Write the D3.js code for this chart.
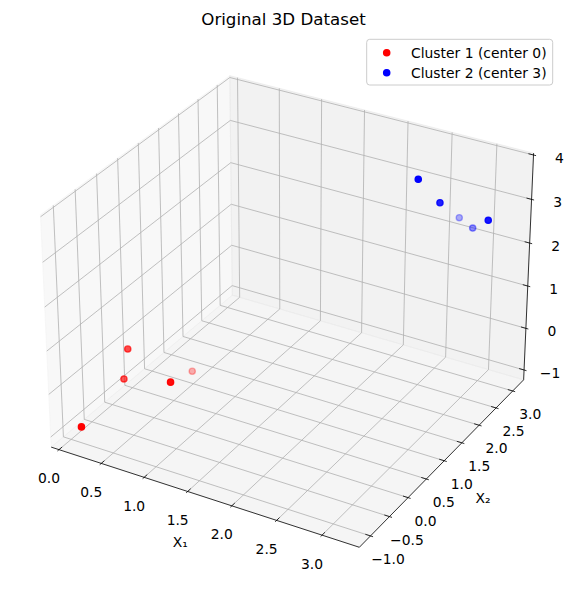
<!DOCTYPE html>
<html><head><meta charset="utf-8">
<script src="https://cdn.jsdelivr.net/npm/d3@7"></script>
<style>body{margin:0;background:#fff} svg{display:block} text{font-family:"DejaVu Sans",sans-serif;fill:#000}</style>
</head><body>
<svg id="chart" width="574" height="591"></svg>
<script>
// ---------------- data ----------------
const chartTitle = "Original 3D Dataset";
const seriesNames = ["Cluster 1 (center 0)", "Cluster 2 (center 3)"];
const seriesColors = ["#ff0000", "#0000ff"];
const cluster1X = [0.13, 0.77, 0.225, 0.252, 0.70];
const cluster1Y = [-1.00, -0.13, -0.035, -0.202, 0.557];
const cluster1Z = [-0.86, -0.12, 0.25, -0.306, -0.459];
const cluster2X = [2.517, 2.723, 2.769, 2.947, 3.191];
const cluster2Y = [2.347, 2.452, 2.908, 2.841, 2.636];
const cluster2Z = [3.668, 3.179, 2.539, 2.448, 2.905];
const xTicks = [0, 0.5, 1, 1.5, 2, 2.5, 3];
const yTicks = [-1, -0.5, 0, 0.5, 1, 1.5, 2, 2.5, 3];
const zTicks = [-1, 0, 1, 2, 3, 4];
const xLim = [-0.093, 3.405];
const yLim = [-1.289, 3.333];
const zLim = [-1.239, 4.042];
const xLabel = "X₁", yLabel = "X₂";

// ---------------- projection (matplotlib mplot3d style) ----------------
const svg = d3.select("#chart");
const elev = 30 * Math.PI / 180, azim = -60 * Math.PI / 180;
const aspectRaw = [4, 4, 3];
const nrm = Math.hypot(...aspectRaw);
const A = aspectRaw.map(v => v * 1.8294640721620434 / nrm);
const Rc = A.map(v => v / 2);
const dist = 10;
const ps = [Math.cos(elev) * Math.cos(azim), Math.cos(elev) * Math.sin(azim), Math.sin(elev)];
const eye = Rc.map((r, i) => r + dist * ps[i]);
const dot = (p, q) => p[0] * q[0] + p[1] * q[1] + p[2] * q[2];
const cross = (p, q) => [p[1] * q[2] - p[2] * q[1], p[2] * q[0] - p[0] * q[2], p[0] * q[1] - p[1] * q[0]];
const unit = p => { const n = Math.hypot(...p); return p.map(c => c / n); };
const W = unit(ps);
const U = unit(cross([0, 0, 1], W));
const Vv = cross(W, U);

const wx = d3.scaleLinear().domain(xLim).range([0, A[0]]);
const wy = d3.scaleLinear().domain(yLim).range([0, A[1]]);
const wz = d3.scaleLinear().domain(zLim).range([0, A[2]]);
const sx = d3.scaleLinear().domain([0, 1]).range([291.6, 291.6 + 3090]);
const sy = d3.scaleLinear().domain([0, 1]).range([300.6, 300.6 - 3090]);

function project(x, y, z) {
  const P = [wx(x), wy(y), wz(z)];
  const d = P.map((p, i) => p - eye[i]);
  const xv = dot(U, d), yv = dot(Vv, d), zv = dot(W, d);
  const D = -zv;
  return [sx(xv / D), sy(yv / D), D];
}
const line = d3.line().x(p => p[0]).y(p => p[1]);
const path3 = pts => line(pts.map(p => project(...p)));

const [x0, x1] = xLim, [y0, y1] = yLim, [z0, z1] = zLim;

// ---------------- panes ----------------
const panes = [
  { pts: [[x0, y0, z0], [x0, y1, z0], [x0, y1, z1], [x0, y0, z1]], c: "rgba(242,242,242,0.5)" },
  { pts: [[x0, y1, z0], [x1, y1, z0], [x1, y1, z1], [x0, y1, z1]], c: "rgba(230,230,230,0.5)" },
  { pts: [[x0, y0, z0], [x1, y0, z0], [x1, y1, z0], [x0, y1, z0]], c: "rgba(236,236,236,0.5)" }
];
svg.append("g").selectAll("path").data(panes).join("path")
  .attr("d", d => path3(d.pts) + "Z")
  .attr("fill", d => d.c).attr("stroke", d => d.c).attr("stroke-width", 1);

// ---------------- grid ----------------
const grid = svg.append("g").attr("fill", "none").attr("stroke", "#b0b0b0").attr("stroke-width", 0.8);
xTicks.forEach(v => grid.append("path").attr("d", path3([[v, y0, z0], [v, y1, z0], [v, y1, z1]])));
yTicks.forEach(v => grid.append("path").attr("d", path3([[x1, v, z0], [x0, v, z0], [x0, v, z1]])));
zTicks.forEach(v => grid.append("path").attr("d", path3([[x0, y0, v], [x0, y1, v], [x1, y1, v]])));

// ---------------- axis lines & ticks ----------------
const ax = svg.append("g").attr("fill", "none").attr("stroke", "#000").attr("stroke-width", 0.8);
ax.append("path").attr("d", path3([[x0, y0, z0], [x1, y0, z0]]));
ax.append("path").attr("d", path3([[x1, y0, z0], [x1, y1, z0]]));
ax.append("path").attr("d", path3([[x1, y1, z0], [x1, y1, z1]]));
const dX = (x1 - x0) / 12.5, dY = (y1 - y0) / 12.5;
xTicks.forEach(v => ax.append("path").attr("d", path3([[v, y0 - 0.1 * dY, z0], [v, y0 + 0.2 * dY, z0]])));
yTicks.forEach(v => ax.append("path").attr("d", path3([[x1 + 0.1 * dX, v, z0], [x1 - 0.2 * dX, v, z0]])));
zTicks.forEach(v => ax.append("path").attr("d", path3([[x1 + 0.1 * dX, y1, v], [x1 - 0.2 * dX, y1, v]])));

// ---------------- tick labels ----------------
const fmt1 = d3.format(".1f");
const fmtZ = v => (v < 0 ? "\u2212" : "") + Math.abs(v);
const fmtY = v => (v < 0 ? "\u2212" : "") + fmt1(Math.abs(v));
const lbl = svg.append("g").attr("font-size", "13.89px").attr("text-anchor", "middle").attr("dominant-baseline", "central");
xTicks.forEach(v => { const p = project(v, y0, z0); lbl.append("text").attr("x", p[0] - 10).attr("y", p[1] + 28.5).text(fmt1(v)); });
yTicks.forEach(v => { const p = project(x1, v, z0); lbl.append("text").attr("x", p[0] + 17.5).attr("y", p[1] + 23).text(fmtY(v)); });
zTicks.forEach(v => { const p = project(x1, y1, v); lbl.append("text").attr("x", p[0] + 26).attr("y", p[1] + 3).text(fmtZ(v)); });
// axis labels
const pxl = project((x0 + x1) / 2, y0, z0);
lbl.append("text").attr("x", pxl[0] - 21).attr("y", pxl[1] + 46).text(xLabel);
const pyl = project(x1, (y0 + y1) / 2, z0);
lbl.append("text").attr("x", pyl[0] + 38).attr("y", pyl[1] + 38).text(yLabel);

// ---------------- scatter ----------------
const clusters = [
  { xs: cluster1X, ys: cluster1Y, zs: cluster1Z, color: seriesColors[0] },
  { xs: cluster2X, ys: cluster2Y, zs: cluster2Z, color: seriesColors[1] }
];
const ptsG = svg.append("g");
clusters.forEach(c => {
  const pts = c.xs.map((x, i) => { const p = project(x, c.ys[i], c.zs[i]); return { x: p[0], y: p[1], d: p[2] }; });
  const shade = d3.scaleLinear().domain(d3.extent(pts, p => p.d)).range([1, 0.3]);
  pts.sort((a, b) => b.d - a.d);
  ptsG.append("g").selectAll("circle").data(pts).join("circle")
    .attr("cx", p => p.x).attr("cy", p => p.y).attr("r", 3.1)
    .attr("fill", c.color).attr("stroke", c.color).attr("stroke-width", 1.39)
    .attr("fill-opacity", p => shade(p.d)).attr("stroke-opacity", p => shade(p.d));
});

// ---------------- title ----------------
svg.append("text").attr("x", 283.5).attr("y", 24.5).attr("text-anchor", "middle")
  .attr("font-size", "16.67px").text(chartTitle);

// ---------------- legend ----------------
const lg = svg.append("g");
lg.append("rect").attr("x", 366.7).attr("y", 39.3).attr("width", 186).attr("height", 45.7).attr("rx", 3)
  .attr("fill", "#fff").attr("fill-opacity", 0.8).attr("stroke", "#cccccc").attr("stroke-width", 1);
seriesNames.forEach((n, i) => {
  const yy = 52.7 + i * 20;
  lg.append("circle").attr("cx", 386.7).attr("cy", yy).attr("r", 3.1)
    .attr("fill", seriesColors[i]).attr("stroke", seriesColors[i]).attr("stroke-width", 1.39);
  lg.append("text").attr("x", 411).attr("y", yy).attr("dominant-baseline", "central")
    .attr("font-size", "13.89px").text(n);
});
</script>
</body></html>
